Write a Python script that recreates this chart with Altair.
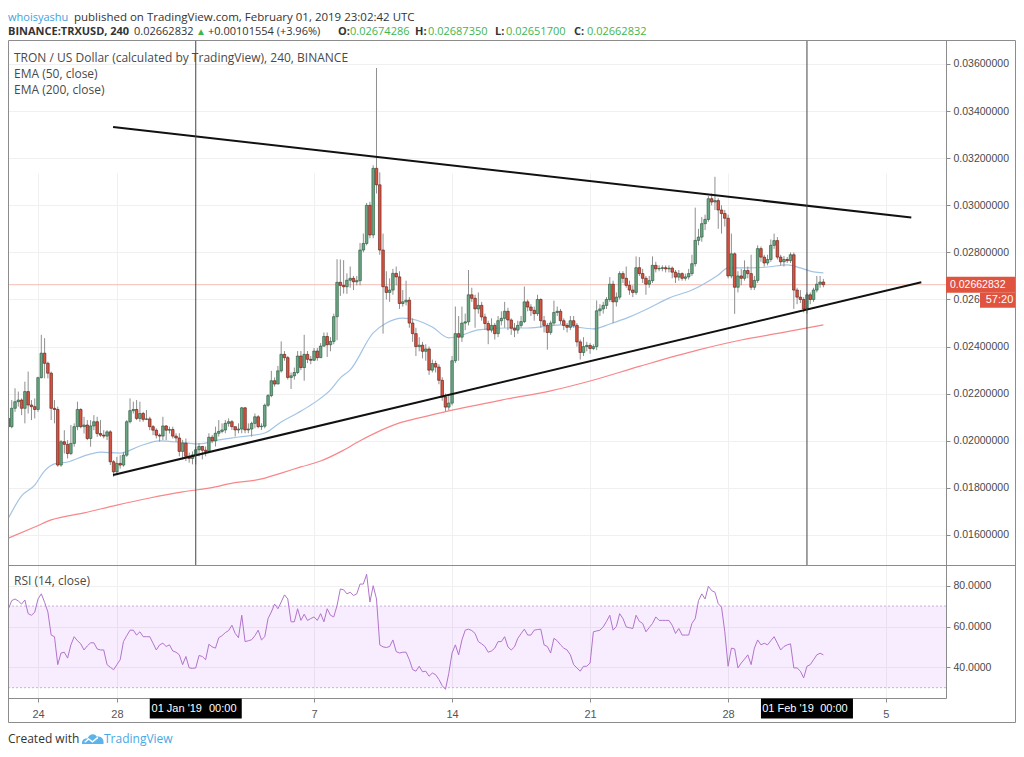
import altair as alt
import numpy as np
import pandas as pd

# ---------------- data (prices in units of 1e-5 USD) ----------------
START_4H = "2018-12-22T12:00:00Z"
OPEN_FIRST = 2095
CLOSE = [
    2060, 2138, 2166, 2173, 2138, 2209, 2152, 2145, 2133, 2268,
    2372, 2329, 2287, 2138, 2133, 1897, 1996, 1985, 1946, 1989,
    2060, 2133, 2060, 2067, 2010, 2063, 2081, 2031, 2024, 2020,
    2038, 1911, 1868, 1904, 1897, 1939, 2081, 2128, 2133, 2095,
    2116, 2091, 2093, 2060, 2045, 2024, 2020, 2063, 2045, 2048,
    2020, 2012, 1955, 1990, 1934, 1925, 1940, 1962, 1976, 1960,
    1955, 2015, 2000, 2032, 2040, 2046, 2074, 2081, 2060, 2046,
    2050, 2140, 2046, 2050, 2074, 2102, 2060, 2062, 2151, 2192,
    2255, 2241, 2297, 2367, 2353, 2269, 2276, 2290, 2360, 2311,
    2367, 2346, 2342, 2381, 2353, 2402, 2443, 2408, 2422, 2527,
    2673, 2660, 2654, 2682, 2690, 2675, 2680, 2810, 2838, 3000,
    2874, 3157, 3087, 2810, 2654, 2630, 2640, 2711, 2696, 2583,
    2590, 2597, 2500, 2455, 2400, 2406, 2380, 2390, 2300, 2328,
    2313, 2257, 2186, 2143, 2160, 2340, 2455, 2440, 2500, 2505,
    2620, 2605, 2560, 2575, 2526, 2498, 2470, 2490, 2455, 2510,
    2520, 2550, 2513, 2478, 2470, 2490, 2506, 2590, 2568, 2554,
    2540, 2600, 2510, 2490, 2460, 2500, 2545, 2550, 2510, 2490,
    2482, 2510, 2490, 2420, 2375, 2400, 2405, 2392, 2400, 2552,
    2560, 2575, 2600, 2665, 2590, 2610, 2710, 2690, 2660, 2640,
    2630, 2735, 2710, 2690, 2665, 2680, 2745, 2730, 2732, 2735,
    2730, 2733, 2716, 2695, 2710, 2690, 2696, 2710, 2752, 2851,
    2865, 2922, 2940, 3028, 3014, 3020, 2980, 2965, 2945, 2700,
    2794, 2652, 2700, 2690, 2723, 2710, 2652, 2681, 2816, 2780,
    2755, 2770, 2830, 2850, 2780, 2760, 2770, 2765, 2790, 2640,
    2610, 2600, 2560, 2620, 2600, 2640, 2665, 2674.286, 2662.832,
]
HIGH = [
    2131, 2173, 2223, 2209, 2180, 2251, 2294, 2173, 2180, 2272,
    2450, 2436, 2336, 2294, 2173, 2145, 2003, 2045, 2003, 2067,
    2074, 2166, 2138, 2102, 2088, 2088, 2109, 2102, 2088, 2045,
    2045, 2045, 1918, 1932, 1939, 1953, 2088, 2180, 2166, 2173,
    2166, 2123, 2131, 2102, 2067, 2053, 2031, 2102, 2067, 2060,
    2060, 2032, 2032, 2004, 2010, 1950, 1955, 1975, 1990, 1976,
    1976, 2032, 2025, 2060, 2088, 2074, 2088, 2095, 2088, 2060,
    2074, 2144, 2144, 2074, 2081, 2116, 2109, 2074, 2158, 2199,
    2297, 2269, 2318, 2422, 2381, 2360, 2290, 2311, 2381, 2381,
    2450, 2381, 2360, 2394, 2394, 2415, 2460, 2460, 2440, 2540,
    2771, 2770, 2767, 2711, 2740, 2700, 2700, 2840, 2880, 3010,
    3015, 3170, 3583, 3140, 2880, 2720, 2690, 2730, 2740, 2720,
    2640, 2680, 2610, 2520, 2480, 2440, 2420, 2410, 2400, 2345,
    2340, 2325, 2270, 2200, 2190, 2360, 2570, 2530, 2570, 2540,
    2725, 2650, 2620, 2630, 2590, 2540, 2510, 2520, 2500, 2530,
    2550, 2590, 2565, 2520, 2500, 2510, 2530, 2655, 2600, 2580,
    2570, 2620, 2605, 2530, 2500, 2510, 2595, 2570, 2560, 2520,
    2500, 2530, 2530, 2500, 2430, 2440, 2420, 2415, 2410, 2596,
    2580, 2590, 2610, 2695, 2680, 2630, 2720, 2720, 2740, 2680,
    2660, 2783, 2780, 2730, 2700, 2700, 2783, 2760, 2745, 2745,
    2745, 2745, 2740, 2725, 2725, 2715, 2710, 2730, 2790, 2990,
    2900, 2950, 2960, 3040, 3050, 3121, 3030, 3000, 2980, 2960,
    2880, 2800, 2720, 2730, 2766, 2740, 2790, 2700, 2830, 2825,
    2790, 2790, 2855, 2880, 2865, 2790, 2785, 2780, 2800, 2800,
    2650, 2640, 2610, 2630, 2630, 2650, 2700, 2700, 2687.35,
]
LOW = [
    2003, 2053, 2123, 2145, 2109, 2074, 2116, 2088, 2095, 2123,
    2265, 2265, 2265, 2088, 2074, 1890, 1890, 1946, 1925, 1939,
    1975, 2045, 2053, 2031, 2003, 1975, 2045, 2017, 2017, 2010,
    2003, 1897, 1847, 1854, 1882, 1890, 1932, 2074, 2116, 2088,
    2081, 2081, 2088, 2045, 2024, 2010, 1996, 2003, 2003, 2031,
    2010, 1995, 1934, 1921, 1914, 1907, 1900, 1900, 1934, 1921,
    1934, 1948, 1990, 1976, 2018, 2032, 2032, 2060, 2046, 2018,
    2032, 2032, 2032, 2032, 2018, 2053, 2053, 2046, 2053, 2144,
    2185, 2230, 2241, 2290, 2340, 2260, 2220, 2260, 2283, 2300,
    2255, 2330, 2325, 2339, 2340, 2353, 2400, 2356, 2380, 2410,
    2427, 2615, 2625, 2624, 2650, 2640, 2660, 2660, 2800, 2830,
    2860, 2860, 3050, 2790, 2455, 2600, 2590, 2620, 2660, 2560,
    2570, 2575, 2480, 2420, 2360, 2380, 2350, 2340, 2280, 2290,
    2290, 2240, 2170, 2125, 2130, 2150, 2330, 2340, 2420, 2470,
    2490, 2590, 2480, 2540, 2510, 2470, 2410, 2460, 2430, 2440,
    2490, 2480, 2470, 2450, 2440, 2455, 2480, 2500, 2550, 2530,
    2510, 2530, 2480, 2460, 2387, 2450, 2490, 2530, 2495, 2470,
    2460, 2470, 2480, 2400, 2345, 2360, 2380, 2370, 2385, 2385,
    2530, 2540, 2560, 2590, 2500, 2570, 2600, 2670, 2650, 2620,
    2610, 2620, 2700, 2670, 2620, 2650, 2670, 2715, 2720, 2720,
    2715, 2715, 2690, 2670, 2680, 2680, 2680, 2685, 2700, 2740,
    2830, 2845, 2895, 2930, 3000, 2980, 2900, 2880, 2910, 2690,
    2690, 2539, 2630, 2660, 2680, 2690, 2640, 2640, 2670, 2760,
    2740, 2745, 2760, 2815, 2770, 2745, 2740, 2755, 2755, 2560,
    2580, 2585, 2545, 2540, 2580, 2590, 2630, 2650, 2651.70,
]
RSI = [
    68.7, 72.7, 73.5, 72.5, 71.0, 73.0, 66.3, 65.5, 67.0, 73.5,
    76.0, 71.9, 67.1, 55.8, 55.0, 41.3, 47.0, 47.4, 44.5, 51.0,
    55.0, 53.0, 51.5, 48.5, 50.5, 52.0, 52.0, 49.0, 48.5, 48.5,
    41.3, 40.0, 38.8, 41.3, 43.7, 52.6, 55.5, 58.2, 58.2, 55.8,
    57.4, 55.0, 55.0, 55.0, 51.8, 48.5, 51.0, 51.8, 50.2, 51.0,
    48.0, 47.4, 46.1, 41.3, 45.3, 39.7, 39.5, 39.7, 45.8, 45.3,
    43.7, 51.3, 50.0, 49.4, 54.5, 55.5, 57.0, 58.0, 60.6, 56.6,
    54.5, 65.5, 52.6, 53.0, 53.5, 55.5, 58.2, 53.4, 55.0, 63.9,
    67.1, 71.0, 68.7, 72.0, 75.5, 73.5, 62.3, 62.3, 68.7, 63.0,
    66.0, 63.0, 63.9, 64.7, 63.0, 66.3, 62.3, 68.7, 65.5, 64.7,
    70.3, 78.4, 78.0, 76.0, 76.8, 75.2, 76.0, 80.8, 80.8, 85.6,
    72.0, 80.0, 73.5, 51.0, 50.0, 49.7, 50.2, 53.4, 47.7, 47.0,
    47.4, 47.4, 43.7, 38.9, 38.1, 40.5, 37.8, 38.1, 35.6, 37.2,
    36.4, 34.0, 31.0, 29.2, 37.0, 47.0, 51.0, 46.1, 53.4, 58.2,
    58.7, 58.0, 56.6, 52.6, 51.5, 50.2, 47.4, 48.0, 49.4, 52.6,
    52.6, 55.0, 50.0, 48.5, 50.0, 54.2, 56.5, 58.7, 55.8, 55.8,
    58.2, 58.5, 58.7, 51.0, 50.2, 47.0, 54.2, 53.0, 51.0, 49.4,
    48.5, 46.1, 41.3, 39.7, 38.1, 40.5, 40.5, 42.1, 57.4, 57.8,
    58.2, 59.8, 62.5, 65.5, 58.2, 60.0, 66.3, 63.9, 59.8, 59.4,
    59.0, 65.5, 62.5, 61.5, 57.4, 59.5, 61.5, 64.7, 63.0, 63.0,
    63.0, 63.0, 60.6, 56.6, 59.0, 55.8, 55.8, 55.8, 61.5, 63.9,
    72.7, 76.0, 73.5, 79.7, 77.6, 76.8, 71.2, 69.5, 57.4, 40.5,
    49.4, 49.0, 39.7, 42.1, 44.0, 46.1, 41.3, 49.4, 53.4, 51.0,
    51.8, 51.0, 53.0, 55.0, 51.8, 48.5, 50.2, 51.0, 51.5, 39.7,
    39.7, 38.1, 34.8, 40.5, 41.3, 43.7, 46.1, 46.9, 46.1,
]
EMA50_I = [0, 4, 8, 11, 14, 18, 24, 28, 34, 40, 46, 54, 58, 64, 70, 78, 83, 88, 93, 98,
           101, 104, 111, 115, 120, 124, 129, 134, 138, 143, 151, 158, 168, 173, 178, 183,
           189, 195, 201, 208, 216, 219, 225, 231, 237, 241, 245, 248]
EMA50_V = [1672, 1766, 1812, 1872, 1902, 1910, 1940, 1952, 1948, 1978, 2000, 1991, 1987,
           2004, 2016, 2033, 2080, 2118, 2161, 2216, 2267, 2301, 2458, 2500, 2521, 2513,
           2483, 2437, 2449, 2471, 2479, 2479, 2492, 2483, 2475, 2496, 2526, 2564, 2606,
           2640, 2704, 2734, 2734, 2738, 2747, 2734, 2717, 2713]
EMA200_I = [0, 8, 13, 23, 33, 43, 53, 63, 67, 77, 83, 89, 95, 101, 107, 113, 119, 125,
            134, 150, 165, 177, 192, 210, 223, 235, 248]
EMA200_V = [1587, 1634, 1664, 1694, 1727, 1757, 1783, 1804, 1817, 1838, 1863, 1889, 1914,
            1953, 2000, 2042, 2076, 2097, 2127, 2173, 2212, 2254, 2316, 2386, 2428, 2458,
            2492]

TREND_UP_T = ["2018-12-27T19:20:00Z", "2019-02-06T07:00:00Z"]
TREND_UP_P = [0.03332, 0.02948]
TREND_LO_T = ["2018-12-27T19:20:00Z", "2019-02-06T19:10:00Z"]
TREND_LO_P = [0.01855, 0.02673]
VLINE_T = ["2019-01-01T00:00:00Z", "2019-02-01T00:00:00Z"]
VLINE_LABEL = ["01 Jan '19", "01 Feb '19"]
VLINE_TIME = ["00:00", "00:00"]
LAST_PRICE = 0.02662832
COUNTDOWN = "57:20"
PRICE_TICKS = [0.016, 0.018, 0.020, 0.022, 0.024, 0.026, 0.028, 0.030, 0.032, 0.034, 0.036]
RSI_TICKS = [40, 60, 80]
RSI_BAND = [30, 70]
DATE_TICKS = ["2018-12-24T00:00:00Z", "2018-12-28T00:00:00Z", "2019-01-07T00:00:00Z",
              "2019-01-14T00:00:00Z", "2019-01-21T00:00:00Z", "2019-01-28T00:00:00Z",
              "2019-02-05T00:00:00Z"]
DOMAIN_START = "2018-12-22T11:27:00Z"
DOMAIN_END = "2019-02-08T01:15:00Z"

# ---------------- build tables ----------------
def ms(s):
    return int(pd.Timestamp(s).timestamp() * 1000)

H4 = 4 * 3600 * 1000
t0 = ms(START_4H)
n = len(CLOSE)
tt = [t0 + i * H4 for i in range(n)]
opens = [OPEN_FIRST] + CLOSE[:-1]
cdf = pd.DataFrame({
    "t": tt,
    "o": np.array(opens, dtype=float) / 1e5,
    "h": np.array(HIGH, dtype=float) / 1e5,
    "l": np.array(LOW, dtype=float) / 1e5,
    "c": np.array(CLOSE, dtype=float) / 1e5,
})
cdf["dir"] = np.where(cdf["c"] >= cdf["o"], "up", "down")
rdf = pd.DataFrame({"t": tt, "r": RSI})
e50 = pd.DataFrame({"t": [t0 + i * H4 for i in EMA50_I], "v": np.array(EMA50_V) / 1e5})
e200 = pd.DataFrame({"t": [t0 + i * H4 for i in EMA200_I], "v": np.array(EMA200_V) / 1e5})
tdf = pd.DataFrame({
    "t": [ms(s) for s in TREND_UP_T + TREND_LO_T],
    "p": TREND_UP_P + TREND_LO_P,
    "g": ["up", "up", "lo", "lo"],
})
vdf = pd.DataFrame({"t": [ms(s) for s in VLINE_T], "lab": VLINE_LABEL, "hm": VLINE_TIME})
ldf = pd.DataFrame({"p": [LAST_PRICE], "lab": [f"{LAST_PRICE:.8f}"], "cd": [COUNTDOWN]})
bdf = pd.DataFrame({"lo": [RSI_BAND[0]], "hi": [RSI_BAND[1]]})
bldf = pd.DataFrame({"r": RSI_BAND})
one = pd.DataFrame({"k": [0]})

W, H = 938, 658
PH = 525  # price pane height
AX_FONT = "Liberation Sans"
TX_FONT = "Open Sans"
GRID = "#f0f0f0"
AXC = "#8c8c8c"

XS = alt.Scale(type="utc", domain=[ms(DOMAIN_START), ms(DOMAIN_END)], nice=False, padding=0)
XA = alt.Axis(values=[ms(d) for d in DATE_TICKS], labelExpr="utcFormat(datum.value, '%-d')",
              title=None, grid=True, gridColor=GRID, domainColor=AXC, tickColor=AXC,
              tickSize=4, labelColor="#555555", labelFont=AX_FONT, labelFontSize=11,
              labelPadding=6, labelFlush=False, labelOverlap=False)
PS = alt.Scale(domain=[0.014726, 0.037019], range=[PH, 0], nice=False, zero=False, padding=0)
PA = alt.Axis(orient="right", values=PRICE_TICKS, format=".8f", title=None, grid=True,
              gridColor=GRID, domainColor=AXC, tickColor=AXC, tickSize=4,
              labelColor="#4a4a4a", labelFont=AX_FONT, labelFontSize=10.5, labelPadding=3,
              labelFlush=False, labelOverlap=False)
RS = alt.Scale(domain=[24.95, 90.15], range=[H, PH], nice=False, zero=False, padding=0)
RA = alt.Axis(orient="right", values=RSI_TICKS, format=".4f", title=None, grid=True,
              gridColor=GRID, domainColor=AXC, tickColor=AXC, tickSize=4,
              labelColor="#4a4a4a", labelFont=AX_FONT, labelFontSize=10.5, labelPadding=3,
              labelFlush=False, labelOverlap=False)


def X():
    return alt.X("t:T", scale=XS, axis=XA)


def YP(f):
    return alt.Y(f, scale=PS, axis=PA)


def YR(f):
    return alt.Y(f, scale=RS, axis=RA)


# ---------------- price pane ----------------
pline = alt.Chart(ldf).mark_rule(color="#f6bdb5", strokeWidth=1).encode(
    x=alt.value(0), x2=alt.value(W), y=YP("p:Q"))
ema200 = alt.Chart(e200).mark_line(color="#f7878a", strokeWidth=1.2, interpolate="monotone").encode(
    x=X(), y=YP("v:Q"))
ema50 = alt.Chart(e50).mark_line(color="#a3c4e4", strokeWidth=1.2, interpolate="monotone").encode(
    x=X(), y=YP("v:Q"))
wick = alt.Chart(cdf).mark_rule(color="#8f8f8f", strokeWidth=1).encode(
    x=X(), y=YP("l:Q"), y2="h:Q")
body = alt.Chart(cdf).mark_bar(size=2.6, strokeWidth=0.6).encode(
    x=X(), y=YP("o:Q"), y2="c:Q",
    fill=alt.Fill("dir:N", scale=alt.Scale(domain=["up", "down"], range=["#6ba583", "#d75442"]), legend=None),
    stroke=alt.Stroke("dir:N", scale=alt.Scale(domain=["up", "down"], range=["#225437", "#5b1a13"]), legend=None),
)
trend = alt.Chart(tdf).mark_line(color="#111111", strokeWidth=2).encode(
    x=X(), y=YP("p:Q"), detail="g:N")
vlines = alt.Chart(vdf).mark_rule(color="#444444", strokeWidth=1).encode(
    x=X(), y=alt.value(0), y2=alt.value(PH))
pbox = alt.Chart(ldf).mark_rect(color="#e0533f", yOffset=-8, y2Offset=8).encode(
    x=alt.value(W), x2=alt.value(1011), y=YP("p:Q"), y2="p:Q")
pbox2 = alt.Chart(ldf).mark_rect(color="#e0533f", yOffset=8, y2Offset=23).encode(
    x=alt.value(972), x2=alt.value(1011), y=YP("p:Q"), y2="p:Q")
ptxt = alt.Chart(ldf).mark_text(align="left", baseline="middle", color="white",
                                font=AX_FONT, fontSize=10.5).encode(
    x=alt.value(942), y=YP("p:Q"), text="lab:N")
ptxt2 = alt.Chart(ldf).mark_text(align="center", baseline="middle", color="white",
                                 font=AX_FONT, fontSize=11, dy=15.5).encode(
    x=alt.value(991.5), y=YP("p:Q"), text="cd:N")
price = alt.layer(pline, ema200, ema50, wick, body, trend, vlines, pbox, pbox2, ptxt, ptxt2)

# ---------------- RSI pane ----------------
band = alt.Chart(bdf).mark_rect(color="#9915ff", opacity=0.08).encode(
    x=alt.value(0), x2=alt.value(W), y=YR("lo:Q"), y2="hi:Q")
bandl = alt.Chart(bldf).mark_rule(color="#c4b2d6", strokeDash=[2, 2], strokeWidth=1).encode(
    x=alt.value(0), x2=alt.value(W), y=YR("r:Q"))
rline = alt.Chart(rdf).mark_line(color="#b274cc", strokeWidth=1).encode(x=X(), y=YR("r:Q"))
rsi = alt.layer(band, bandl, rline)

# ---------------- decorations ----------------
frame = alt.Chart(one).mark_rect(fill="white", fillOpacity=0, stroke=AXC, strokeWidth=1).encode(
    x=alt.value(0.5), x2=alt.value(1007.5), y=alt.value(0.5), y2=alt.value(682.5))
sep = alt.Chart(one).mark_rule(color=AXC, strokeWidth=1).encode(
    x=alt.value(0), x2=alt.value(1008), y=alt.value(PH + 0.5))
dbox = alt.Chart(vdf).mark_rect(color="black", xOffset=-46, x2Offset=46).encode(
    x=X(), x2=alt.X2("t"), y=alt.value(658.5), y2=alt.value(678.5))
dt1 = alt.Chart(vdf).mark_text(color="white", font=AX_FONT, fontSize=11, baseline="middle",
                               dx=-19).encode(x=X(), y=alt.value(668.5), text="lab:N")
dt2 = alt.Chart(vdf).mark_text(color="white", font=AX_FONT, fontSize=11, baseline="middle",
                               dx=27).encode(x=X(), y=alt.value(668.5), text="hm:N")


def label(txt, x, y, color="#4a4a4a", size=12, weight="normal", font=TX_FONT):
    return alt.Chart(pd.DataFrame({"s": [txt]})).mark_text(
        align="left", baseline="alphabetic", color=color, fontSize=size,
        fontWeight=weight, font=font).encode(x=alt.value(x), y=alt.value(y), text="s:N")


GREEN = "#3fb54c"
DARK = "#333333"
L1, L2 = -19.5, -5
texts = [
    label("whoisyashu", 0, L1, color="#3ea2dc", size=11),
    label("published on TradingView.com, February 01, 2019 23:02:42 UTC", 66, L1, color=DARK, size=11.5),
    label("BINANCE:TRXUSD, 240", 0, L2, color=DARK, size=11, weight="bold"),
    label("0.02662832", 126, L2, color=DARK, size=11),
    label("\u25b2", 188, L2, color=GREEN, size=10),
    label("+0.00101554 (+3.96%)", 200, L2, color=DARK, size=11),
    label("O:", 330, L2, color=DARK, size=11, weight="bold"),
    label("0.02674286", 342, L2, color=GREEN, size=11),
    label("H:", 407, L2, color=DARK, size=11, weight="bold"),
    label("0.02687350", 420, L2, color=GREEN, size=11),
    label("L:", 487, L2, color=DARK, size=11, weight="bold"),
    label("0.02651700", 498, L2, color=GREEN, size=11),
    label("C:", 566, L2, color=DARK, size=11, weight="bold"),
    label("0.02662832", 579, L2, color=GREEN, size=11),
    label("TRON / US Dollar (calculated by TradingView), 240, BINANCE", 6, 22, size=12),
    label("EMA (50, close)", 6, 38, size=12),
    label("EMA (200, close)", 6, 54, size=12),
    label("RSI (14, close)", 6, 545, size=12),
    label("Created with", 0, 703, color=DARK, size=12),
    label("TradingView", 96, 703, color="#45a9e6", size=12),
]
logo = alt.Chart(one).mark_point(
    shape="M-1,0.45 C-1.05,0.1 -0.75,-0.1 -0.5,-0.02 C-0.4,-0.45 0.15,-0.6 0.35,-0.2 C0.7,-0.3 1.05,0 0.95,0.45 Z",
    filled=True, color="#5ab4ea", size=484, opacity=1).encode(x=alt.value(85), y=alt.value(699))
logo2 = alt.Chart(one).mark_point(
    shape="M-0.75,0.3 L-0.4,0.0 L-0.05,0.25 L0.45,-0.15",
    filled=False, color="white", strokeWidth=1.5, size=484, opacity=1).encode(
    x=alt.value(85), y=alt.value(699))

chart = alt.layer(price, rsi, frame, sep, dbox, dt1, dt2, logo, logo2, *texts).resolve_scale(
    y="independent"
).properties(
    width=W, height=H,
    padding={"left": 0, "top": 32, "right": 70, "bottom": 50},
    autosize=alt.AutoSizeParams(type="none"),
    background="white",
).configure_view(strokeWidth=0)

chart.save("out.html", embed_options={"renderer": "svg", "actions": False})
